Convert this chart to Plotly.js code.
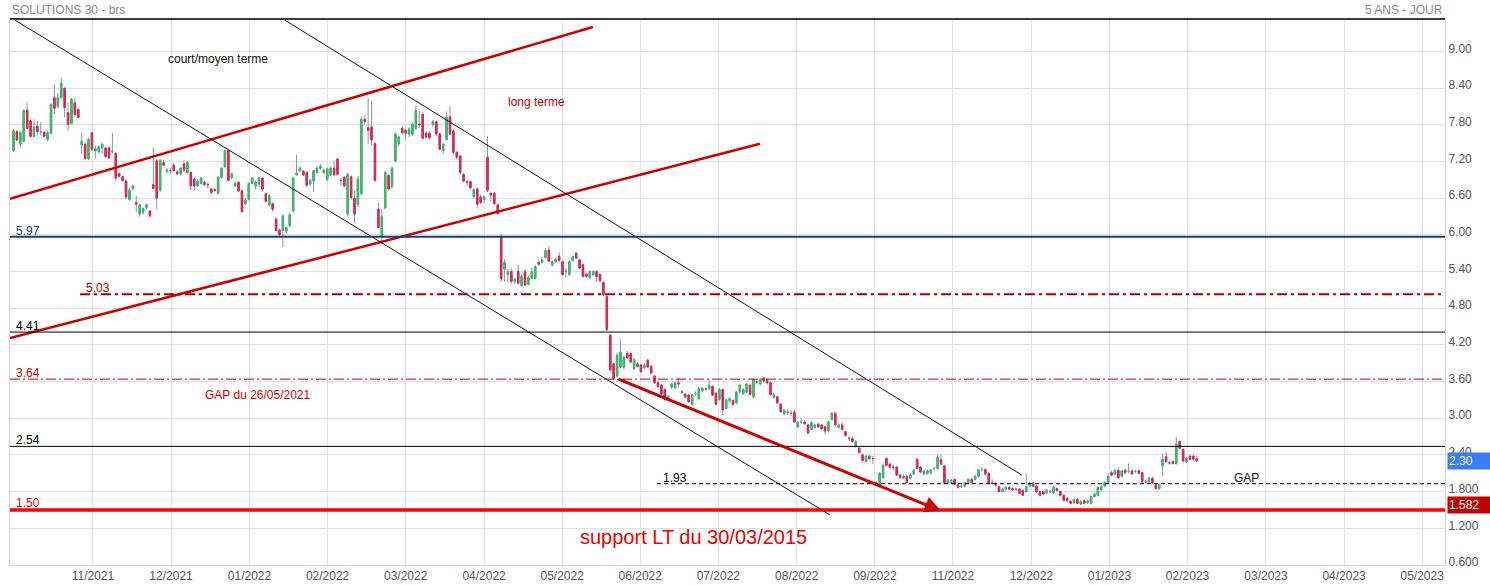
<!DOCTYPE html>
<html><head><meta charset="utf-8">
<script src="https://cdn.plot.ly/plotly-3.0.1.min.js"></script>
<style>html,body{margin:0;padding:0;background:#fff}#chart{width:1490px;height:586px}</style>
</head><body><div id="chart"></div>
<script>
// ---- OHLC data (daily bars) ----
const opens=[7.38,7.69,7.48,7.53,8.04,7.86,7.61,7.78,7.68,7.68,7.56,7.66,8.24,8.10,8.24,8.40,8.00,7.82,8.16,8.05,7.47,7.48,7.24,7.67,7.37,7.36,7.42,7.42,7.42,7.37,7.33,7.00,6.95,6.88,6.58,6.76,6.53,6.34,6.37,6.45,6.39,6.82,7.21,6.73,7.18,7.04,7.05,7.14,7.03,
7.00,7.16,7.02,7.02,6.91,6.80,6.84,6.86,6.82,6.75,6.74,6.68,6.94,7.11,7.38,6.94,6.80,6.86,6.72,6.51,6.58,6.84,6.80,6.83,6.93,6.67,6.49,6.51,6.26,6.08,6.07,6.06,6.15,6.39,6.98,7.05,7.04,7.02,6.83,6.88,7.02,7.09,7.02,6.91,6.99,7.09,7.24,6.89,6.94,6.34,
6.95,6.60,6.50,6.67,7.89,7.75,7.76,7.49,6.42,5.96,6.44,6.97,6.79,7.21,7.49,7.74,7.71,7.65,7.65,7.74,7.81,7.97,7.66,7.66,7.80,7.85,7.65,7.38,7.56,7.93,7.70,7.35,7.29,6.99,6.87,6.87,6.63,6.75,6.62,6.58,7.27,6.68,6.68,6.49,
5.96,5.44,5.35,5.40,5.24,5.40,5.17,5.40,5.19,5.29,5.29,5.55,5.55,5.63,5.75,5.51,5.56,5.65,5.56,5.41,5.35,5.58,5.70,5.59,5.51,5.36,5.30,5.35,5.40,5.35,5.22,4.99,
4.36,3.89,3.69,3.84,3.84,4.06,4.06,3.81,3.89,3.87,3.83,3.95,3.85,3.69,3.58,3.54,3.47,3.31,3.51,3.50,3.58,3.43,3.39,3.38,3.23,3.40,3.32,3.45,3.48,3.49,3.52,3.41,3.31,3.47,3.16,3.29,3.29,3.25,3.43,3.40,3.43,3.54,3.35,3.59,3.56,3.66,3.63,3.58,3.34,3.35,3.23,3.07,3.10,
3.08,3.10,2.86,2.94,2.94,2.89,2.82,2.85,2.90,2.89,2.86,2.79,2.98,3.08,2.85,2.89,2.78,2.67,2.67,2.54,2.51,2.40,2.29,2.38,2.34,1.95,1.91,2.03,2.34,2.25,2.20,2.20,2.07,2.02,2.05,2.02,2.09,
2.33,2.20,2.09,2.10,2.11,2.18,2.18,2.32,2.22,1.94,1.95,2.00,1.91,1.89,1.89,1.95,2.00,2.00,2.05,2.16,2.16,2.10,1.94,1.91,1.88,1.80,1.84,1.87,1.85,1.84,1.84,1.82,1.80,1.89,1.94,1.89,1.80,1.80,1.78,1.80,
1.78,1.85,1.80,1.74,1.69,1.64,1.62,1.67,1.60,1.65,1.62,1.61,1.72,1.74,1.83,1.89,1.95,2.11,2.09,2.15,2.05,2.15,2.13,2.14,2.13,2.14,2.11,1.96,1.96,2.02,1.91,1.85,2.22,2.37,2.27,2.29,2.26,2.62,2.49,2.29,2.38,2.38,2.34];
const highs=[7.73,7.71,7.70,8.06,8.16,7.89,7.89,7.86,7.84,7.70,7.70,8.15,8.46,8.32,8.57,8.40,8.16,8.23,8.24,8.08,7.67,7.51,7.59,7.68,7.46,7.46,7.51,7.44,7.45,7.67,7.35,7.03,6.97,6.91,6.76,6.82,6.64,6.51,6.45,6.51,6.40,7.43,7.24,7.24,7.22,7.09,7.10,7.17,7.06,
7.11,7.22,7.21,7.04,6.94,6.91,6.95,6.89,6.86,6.77,6.77,6.96,7.11,7.40,7.40,7.02,6.88,6.88,6.74,6.60,6.86,6.95,6.89,6.95,6.95,6.69,6.66,6.53,6.28,6.10,6.33,6.14,6.36,6.95,7.31,7.12,7.06,7.04,6.92,7.06,7.12,7.16,7.08,7.10,7.12,7.22,7.26,6.93,6.96,7.01,
6.97,6.72,6.96,7.94,7.95,8.24,8.19,7.52,6.53,6.42,7.05,7.00,7.12,7.67,7.62,7.78,7.74,7.76,7.84,8.11,8.03,8.00,7.70,7.69,7.88,7.87,7.67,7.50,8.02,8.11,7.72,7.37,7.31,7.01,6.90,6.89,6.76,6.77,6.66,6.64,7.62,6.70,6.70,6.51,
6.01,5.60,5.44,5.45,5.30,5.51,5.35,5.44,5.33,5.46,5.50,5.58,5.64,5.78,5.82,5.58,5.63,5.72,5.58,5.46,5.58,5.66,5.72,5.61,5.53,5.38,5.42,5.42,5.42,5.37,5.24,5.01,
4.37,3.91,4.07,4.29,4.02,4.10,4.09,3.98,3.92,3.89,3.90,3.97,3.87,3.71,3.62,3.56,3.49,3.38,3.58,3.60,3.66,3.46,3.41,3.40,3.40,3.44,3.51,3.51,3.51,3.63,3.54,3.43,3.50,3.49,3.32,3.34,3.31,3.45,3.56,3.49,3.58,3.56,3.65,3.63,3.66,3.68,3.65,3.60,3.41,3.37,3.25,3.15,3.14,
3.14,3.14,2.95,3.00,2.97,2.91,2.95,2.91,2.93,2.91,2.88,2.96,3.10,3.10,2.92,2.94,2.80,2.72,2.70,2.64,2.53,2.42,2.40,2.40,2.38,1.97,2.12,2.25,2.37,2.27,2.24,2.22,2.09,2.08,2.07,2.10,2.17,
2.35,2.22,2.16,2.16,2.17,2.21,2.41,2.40,2.24,2.00,2.00,2.02,1.93,1.92,1.96,2.02,2.03,2.07,2.17,2.21,2.18,2.12,2.00,1.96,1.90,1.86,1.89,1.89,1.87,1.87,1.86,1.84,2.10,1.96,1.96,1.91,1.82,1.82,1.84,1.83,
1.90,1.87,1.82,1.76,1.71,1.66,1.69,1.69,1.66,1.67,1.67,1.74,1.78,1.89,1.90,1.97,2.10,2.14,2.17,2.20,2.16,2.17,2.26,2.16,2.16,2.16,2.13,2.00,2.04,2.04,1.93,1.93,2.42,2.45,2.31,2.31,2.69,2.64,2.51,2.36,2.41,2.40,2.38];
const lows=[7.36,7.53,7.44,7.51,7.73,7.59,7.60,7.64,7.62,7.60,7.53,7.64,7.97,8.07,8.23,7.92,7.70,7.81,7.92,7.89,7.32,7.22,7.22,7.37,7.25,7.33,7.32,7.26,7.24,7.33,6.88,6.94,6.87,6.58,6.56,6.72,6.37,6.29,6.33,6.42,6.29,6.74,6.42,6.70,7.12,7.00,7.00,7.03,6.97,
6.97,7.02,6.99,6.73,6.73,6.78,6.82,6.80,6.75,6.67,6.70,6.66,6.92,7.10,6.88,6.91,6.78,6.70,6.36,6.48,6.56,6.82,6.74,6.78,6.72,6.53,6.46,6.38,6.05,5.97,5.80,6.02,6.12,6.37,6.97,7.02,6.96,6.78,6.80,6.70,7.00,7.06,6.99,6.88,6.96,6.96,6.97,6.80,6.78,6.30,
6.58,6.20,6.45,6.66,7.80,7.48,7.46,6.87,6.11,5.85,6.42,6.72,6.76,7.18,7.45,7.64,7.55,7.60,7.62,7.72,7.75,7.56,7.58,7.56,7.77,7.62,7.38,7.32,7.54,7.63,7.30,7.24,6.98,6.86,6.80,6.74,6.60,6.44,6.50,6.52,6.70,6.55,6.49,6.32,
5.23,5.23,5.22,5.20,5.19,5.18,5.15,5.16,5.17,5.27,5.27,5.49,5.53,5.61,5.55,5.48,5.54,5.56,5.33,5.30,5.33,5.56,5.60,5.44,5.30,5.30,5.28,5.33,5.23,5.22,5.00,4.42,
3.76,3.63,3.66,3.82,3.80,3.97,3.90,3.79,3.83,3.74,3.80,3.82,3.72,3.56,3.50,3.38,3.28,3.28,3.48,3.47,3.50,3.40,3.33,3.25,3.21,3.37,3.30,3.43,3.45,3.46,3.36,3.21,3.29,3.05,3.14,3.26,3.20,3.23,3.41,3.38,3.41,3.37,3.33,3.56,3.54,3.58,3.55,3.37,3.32,3.23,3.09,3.05,3.05,
3.03,2.92,2.84,2.90,2.89,2.74,2.80,2.83,2.84,2.81,2.74,2.77,2.96,2.87,2.83,2.80,2.70,2.63,2.60,2.52,2.42,2.29,2.27,2.32,2.25,1.90,1.89,2.01,2.21,2.18,2.15,2.05,2.01,2.00,1.93,2.00,2.07,
2.17,2.10,2.07,2.08,2.09,2.14,2.16,2.23,1.92,1.92,1.93,1.91,1.85,1.86,1.87,1.93,1.93,1.98,2.03,2.13,2.06,1.92,1.91,1.88,1.79,1.78,1.82,1.82,1.81,1.81,1.76,1.73,1.78,1.87,1.87,1.78,1.72,1.74,1.76,1.77,
1.76,1.80,1.72,1.64,1.63,1.59,1.60,1.60,1.58,1.59,1.60,1.59,1.70,1.72,1.81,1.87,1.93,2.05,2.07,2.01,2.03,2.09,2.10,2.07,2.10,2.08,1.94,1.93,1.94,1.92,1.84,1.83,2.05,2.27,2.24,2.24,2.24,2.49,2.28,2.27,2.31,2.31,2.29];
const closes=[7.70,7.55,7.67,8.03,7.74,7.61,7.76,7.69,7.69,7.61,7.67,8.13,8.07,8.24,8.48,8.08,7.81,8.22,7.97,7.92,7.53,7.25,7.56,7.40,7.41,7.44,7.48,7.28,7.26,7.37,6.93,6.96,6.89,6.62,6.73,6.80,6.50,6.49,6.43,6.49,6.31,6.76,6.60,7.22,7.14,7.06,7.05,7.05,7.00,
7.09,7.06,7.18,6.80,6.80,6.88,6.93,6.82,6.82,6.69,6.73,6.94,7.09,7.37,6.89,7.00,6.84,6.72,6.38,6.57,6.84,6.93,6.86,6.93,6.75,6.55,6.64,6.42,6.07,6.00,6.31,6.12,6.33,6.93,7.01,7.09,6.98,6.81,6.89,7.05,7.09,7.12,7.06,7.08,7.09,6.98,6.99,6.89,6.80,6.99,
6.61,6.34,6.91,7.89,7.85,7.71,7.55,6.89,6.12,6.30,7.02,6.75,7.09,7.65,7.60,7.67,7.66,7.73,7.81,8.04,7.80,7.58,7.60,7.59,7.85,7.65,7.40,7.48,7.92,7.65,7.35,7.27,7.02,6.88,6.86,6.77,6.74,6.50,6.53,6.62,6.73,6.65,6.51,6.35,
5.28,5.55,5.40,5.24,5.27,5.21,5.32,5.18,5.30,5.40,5.48,5.52,5.59,5.74,5.57,5.56,5.60,5.58,5.35,5.41,5.56,5.64,5.62,5.46,5.32,5.32,5.40,5.40,5.32,5.25,5.02,4.45,
3.79,3.65,4.03,4.08,3.99,3.99,3.92,3.96,3.85,3.76,3.87,3.84,3.74,3.58,3.52,3.40,3.31,3.36,3.56,3.58,3.56,3.43,3.35,3.27,3.38,3.40,3.49,3.49,3.48,3.54,3.38,3.23,3.47,3.14,3.30,3.32,3.23,3.43,3.54,3.47,3.56,3.39,3.63,3.59,3.63,3.61,3.58,3.39,3.39,3.25,3.11,3.13,3.10,
3.08,2.94,2.93,2.94,2.91,2.76,2.93,2.89,2.86,2.83,2.79,2.94,3.08,2.89,2.89,2.82,2.72,2.67,2.62,2.62,2.44,2.31,2.38,2.34,2.34,1.92,2.10,2.23,2.23,2.20,2.20,2.07,2.03,2.05,1.95,2.07,2.15,
2.18,2.12,2.14,2.14,2.15,2.18,2.36,2.25,1.94,1.99,1.99,1.92,1.87,1.89,1.95,2.00,1.95,2.05,2.16,2.16,2.09,1.94,1.94,1.91,1.80,1.84,1.87,1.84,1.83,1.84,1.77,1.74,1.88,1.94,1.89,1.80,1.74,1.76,1.82,1.80,
1.87,1.82,1.74,1.66,1.65,1.61,1.67,1.61,1.64,1.61,1.65,1.72,1.76,1.87,1.88,1.95,2.05,2.07,2.15,2.03,2.14,2.11,2.13,2.09,2.13,2.10,1.96,1.96,2.02,1.94,1.85,1.91,2.33,2.29,2.27,2.26,2.58,2.51,2.30,2.34,2.33,2.33,2.30];

// ---- axis labels ----
const monthLabels=['11/2021','12/2021','01/2022','02/2022','03/2022','04/2022','05/2022','06/2022','07/2022','08/2022','09/2022','11/2022','12/2022','01/2023','02/2023','03/2023','04/2023','05/2023'];
const monthBar=[23.3,46.2,69.2,92.1,115.0,138.0,160.9,183.8,206.7,229.7,252.6,275.5,298.5,321.4,344.3,367.3,390.2,413.1];
const yTickVals=[9.0,8.4,7.8,7.2,6.6,6.0,5.4,4.8,4.2,3.6,3.0,2.4,1.8,1.2,0.6];
const yTickText=['9.00','8.40','7.80','7.20','6.60','6.00','5.40','4.80','4.20','3.60','3.00','2.40','1.800','1.200','0.600'];

// ---- analyst drawings (bar index, price) ----
const levelValues=[5.97,5.03,4.41,3.64,2.54,1.93,1.50];
const levelLabels=['5.97','5.03','4.41','3.64','2.54','1.93','1.50'];
const levelStartBar=[-1.03,19.5,-1.03,-1.03,-1.03,188.7,-1.03];
const redUpperBars=[-1.03,169.9], redUpperPrices=[6.59,9.40];
const redLowerBars=[-1.03,218.9], redLowerPrices=[4.31,7.49];
const blackABars=[0.44,239.4], blackAPrices=[9.51,1.42];
const blackBBars=[79.6,295.7], blackBPrices=[9.51,2.07];
const arrowBars=[177.0,272.0], arrowPrices=[3.65,1.484];
const lastPrice=2.30, lowPrice=1.582;

const n=opens.length;
const idx=opens.map((_,i)=>i);
const X0=-1.03, X1=419.8;
const FONT='Liberation Sans, Arial, sans-serif';

const wickGray='#8096b0', green='#3fb868', red='#e0264f';
const bodyHi=opens.map((o,i)=>Math.max(o,closes[i]));
const bodyLo=opens.map((o,i)=>Math.min(o,closes[i]));
const hi=highs.map((h,i)=>Math.max(h,bodyHi[i]));
const lo=lows.map((l,i)=>Math.min(l,bodyLo[i]));

const traces=[
 {type:'candlestick',x:idx,open:opens,high:hi,low:lo,close:closes,hoverinfo:'skip',showlegend:false,
  increasing:{line:{color:wickGray,width:1},fillcolor:wickGray},decreasing:{line:{color:wickGray,width:1},fillcolor:wickGray},whiskerwidth:0},
 {type:'candlestick',x:idx,open:opens,high:bodyHi,low:bodyLo,close:closes,hoverinfo:'skip',showlegend:false,
  increasing:{line:{color:green,width:1},fillcolor:green},decreasing:{line:{color:red,width:1},fillcolor:red},whiskerwidth:0},
 {type:'scatter',mode:'lines',x:redUpperBars,y:redUpperPrices,line:{color:'#cc0000',width:2.5},hoverinfo:'skip',showlegend:false},
 {type:'scatter',mode:'lines',x:redLowerBars,y:redLowerPrices,line:{color:'#cc0000',width:2.5},hoverinfo:'skip',showlegend:false},
 {type:'scatter',mode:'lines',x:blackABars,y:blackAPrices,line:{color:'#111',width:1},hoverinfo:'skip',showlegend:false},
 {type:'scatter',mode:'lines',x:blackBBars,y:blackBPrices,line:{color:'#111',width:1},hoverinfo:'skip',showlegend:false}
];

const levelStyle=[
 {color:'#123f7a',width:2,dash:'solid',label:'#123f7a'},
 {color:'#a80000',width:2,dash:'10px,4px,3px,4px',label:'#a80000'},
 {color:'#000',width:1,dash:'solid',label:'#000'},
 {color:'#b80000',width:1,dash:'10px,3px,2px,3px',label:'#d00000'},
 {color:'#000',width:1,dash:'solid',label:'#000'},
 {color:'#000',width:1,dash:'4px,3px',label:'#000'},
 {color:'#ff0000',width:3.5,dash:'solid',label:'#e00000'}
];
const shapes=levelValues.map((v,i)=>({type:'line',xref:'x',yref:'y',x0:levelStartBar[i],x1:X1,y0:v,y1:v,
  line:{color:levelStyle[i].color,width:levelStyle[i].width,dash:levelStyle[i].dash},layer:'above'}));
shapes.push({type:'line',xref:'paper',yref:'paper',x0:0,x1:1,y0:1,y1:1,line:{color:'#000',width:1.5}});

const ann=[];
levelValues.forEach((v,i)=>{
  ann.push({xref:'x',yref:'y',x:levelStartBar[i]+1.2,y:v,text:levelLabels[i],showarrow:false,xanchor:'left',yanchor:'bottom',
    yshift:(i===6?-2:-3),font:{family:FONT,size:12,color:levelStyle[i].label}});
});
const txt=(x,y,t,c,s)=>ann.push({xref:'x',yref:'y',x:x,y:y,text:t,showarrow:false,xanchor:'left',yanchor:'middle',font:{family:FONT,size:s||12,color:c}});
txt(44.8,8.87,'court/moyen terme','#111');
txt(144.4,8.17,'long terme','#cc0000');
txt(55.6,3.38,'GAP du 26/05/2021','#e00000');
txt(357.2,2.02,'GAP','#111');
txt(165.5,1.06,'support LT du 30/03/2015','#ee0000',20);
ann.push({xref:'x',yref:'y',x:arrowBars[1],y:arrowPrices[1],ax:arrowBars[0],ay:arrowPrices[0],axref:'x',ayref:'y',
  text:'',showarrow:true,arrowhead:2,arrowsize:1.1,arrowwidth:3,arrowcolor:'#cc0000',standoff:0,startstandoff:0});
ann.push({xref:'paper',yref:'paper',x:0,y:1,xanchor:'left',yanchor:'bottom',yshift:0,text:'SOLUTIONS 30 - brs',showarrow:false,
  font:{family:FONT,size:12,color:'#8a8a8a'}});
ann.push({xref:'paper',yref:'paper',x:1,y:1,xanchor:'right',yanchor:'bottom',yshift:0,text:'5 ANS - JOUR',showarrow:false,
  font:{family:FONT,size:12,color:'#8a8a8a'}});
ann.push({xref:'paper',yref:'y',x:1,y:lastPrice,xanchor:'left',yanchor:'middle',xshift:2,text:lastPrice.toFixed(2),showarrow:false,
  bgcolor:'#3c7cf2',width:41,height:14,align:'left',font:{family:FONT,size:12,color:'#fff'}});
ann.push({xref:'paper',yref:'y',x:1,y:lowPrice,xanchor:'left',yanchor:'middle',xshift:2,text:lowPrice.toFixed(3),showarrow:false,
  bgcolor:'#c00000',width:41,height:14,align:'left',font:{family:FONT,size:12,color:'#fff'}});

const layout={
  width:1490,height:586,margin:{l:10,r:45,t:19,b:21,pad:0},
  paper_bgcolor:'#fff',plot_bgcolor:'#fff',showlegend:false,boxgap:0.4,
  font:{family:FONT},
  xaxis:{range:[X0,X1],tickmode:'array',tickvals:monthBar,ticktext:monthLabels,showgrid:true,gridcolor:'#e2e2e2',gridwidth:1,
    zeroline:false,showline:true,linecolor:'#d4d4d4',mirror:true,ticks:'',tickfont:{family:FONT,size:12,color:'#555'},
    rangeslider:{visible:false},fixedrange:true},
  yaxis:{range:[0.6,9.53],side:'right',tickmode:'array',tickvals:yTickVals,ticktext:yTickText,showgrid:true,gridcolor:'#e2e2e2',
    zeroline:false,showline:true,linecolor:'#d4d4d4',mirror:true,ticks:'',ticklabelshift:-3,
    tickfont:{family:FONT,size:12,color:'#555'},fixedrange:true},
  shapes:shapes,annotations:ann
};
Plotly.newPlot('chart',traces,layout,{displayModeBar:false,staticPlot:true});
</script></body></html>
